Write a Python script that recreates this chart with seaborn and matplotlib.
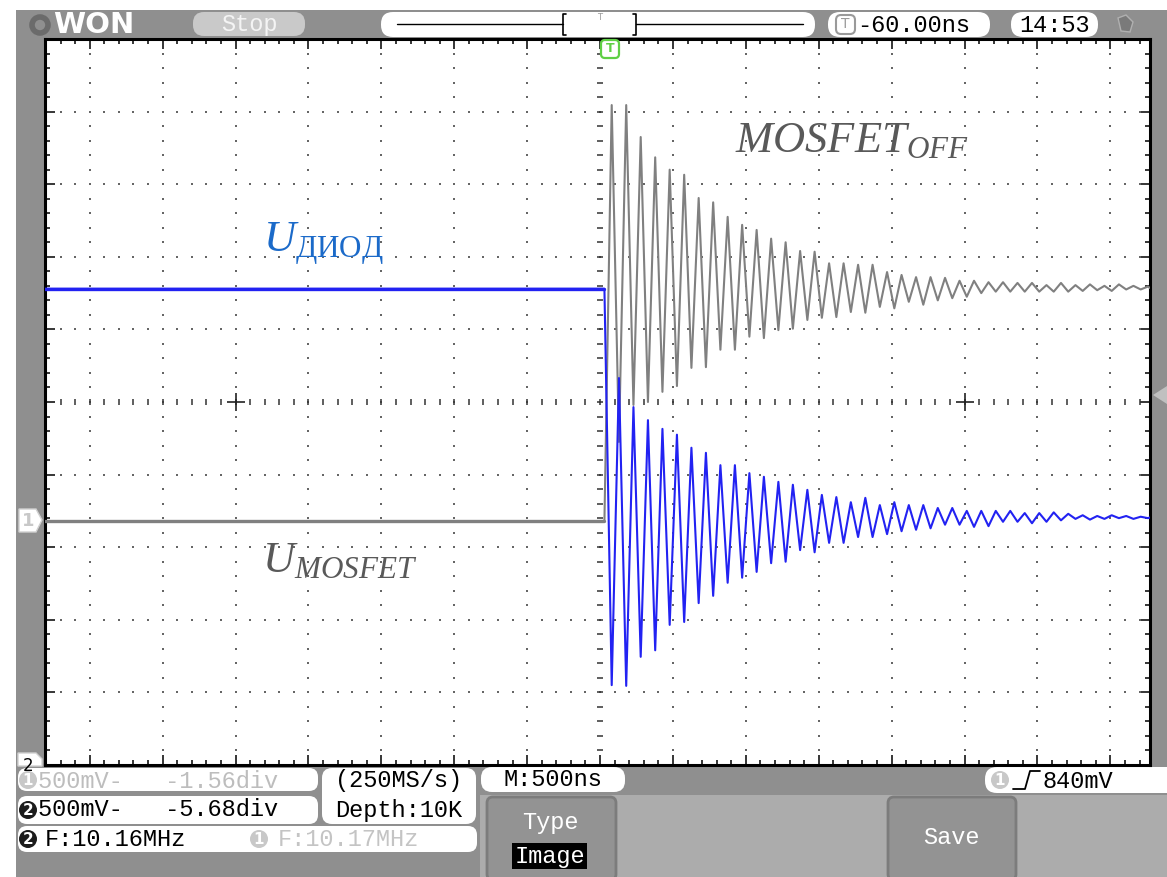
import numpy as np
import pandas as pd
import seaborn as sns
import matplotlib.pyplot as plt
from matplotlib.ticker import MultipleLocator
from matplotlib.patches import FancyBboxPatch, Rectangle, Polygon, Circle

# Oscilloscope capture: 500 ns/div, 500 mV/div, vertical values in divisions
T_LEFT, T_RIGHT = -3807, 3772      # visible time window, ns
STEP_T = 30                        # switching edge, ns
FIRST_EXT_T = 80                   # first extreme after the edge, ns
HALF_PERIOD = 49.7                 # ns between successive extremes (~10 MHz ringing)

# channel 2 (blue) - diode voltage
blue_pre = 1.56
blue_ext = [-3.90, 0.33, -3.91, -0.07, -3.51, -0.25, -3.42, -0.37, -3.07, -0.45,
            -3.03, -0.63, -2.77, -0.70, -2.67, -0.87, -2.49, -0.87, -2.42, -0.98,
            -2.34, -1.03, -2.22, -1.10, -2.20, -1.14, -2.04, -1.21, -2.07, -1.28,
            -1.94, -1.31, -1.94, -1.38, -1.86, -1.32, -1.86, -1.42, -1.82, -1.38,
            -1.78, -1.42, -1.76, -1.42, -1.74, -1.46, -1.69, -1.46, -1.69, -1.50,
            -1.72, -1.50, -1.71, -1.50, -1.65, -1.50, -1.65, -1.53, -1.67, -1.53,
            -1.65, -1.52, -1.63, -1.54, -1.61, -1.56, -1.62, -1.57, -1.61, -1.56,
            -1.60, -1.57, -1.61, -1.58, -1.60]
blue_rest = -1.59

# channel 1 (gray) - MOSFET voltage
gray_pre = -1.64
gray_ext = [4.09, -0.55, 4.09, -0.04, 3.65, 0.00, 3.37, 0.14, 3.20, 0.22,
            3.13, 0.47, 2.81, 0.48, 2.75, 0.72, 2.55, 0.72, 2.44, 0.90,
            2.37, 0.88, 2.25, 0.99, 2.20, 1.01, 2.08, 1.13, 2.07, 1.16,
            1.91, 1.17, 1.91, 1.24, 1.89, 1.23, 1.89, 1.31, 1.79, 1.29,
            1.75, 1.38, 1.72, 1.34, 1.72, 1.40, 1.71, 1.43, 1.67, 1.45,
            1.67, 1.50, 1.65, 1.52, 1.65, 1.52, 1.64, 1.52, 1.64, 1.52,
            1.61, 1.52, 1.64, 1.52, 1.61, 1.53, 1.62, 1.54, 1.60, 1.53,
            1.62, 1.55, 1.60, 1.55, 1.59]
gray_rest = 1.57


def trace(pre, ext, rest):
    t_ext = FIRST_EXT_T + HALF_PERIOD * np.arange(len(ext))
    t = np.concatenate([[T_LEFT, STEP_T], t_ext, [T_RIGHT]])
    v = np.concatenate([[pre, pre], ext, [rest]])
    return pd.DataFrame({'t_ns': t, 'div': v})


df_blue = trace(blue_pre, blue_ext, blue_rest)
df_gray = trace(gray_pre, gray_ext, gray_rest)

sns.set_theme(style='white')
plt.rcParams['font.family'] = ['Liberation Mono', 'DejaVu Sans']
plt.rcParams['mathtext.fontset'] = 'custom'
plt.rcParams['mathtext.it'] = 'Liberation Serif:italic'
plt.rcParams['mathtext.rm'] = 'Liberation Serif'

W, H = 1167, 877
fig = plt.figure(figsize=(W / 100, H / 100), dpi=100)
fig.patch.set_facecolor('white')

# background chrome, pixel coordinates
bg = fig.add_axes([0, 0, 1, 1], zorder=0)
bg.set_xlim(0, W)
bg.set_ylim(H, 0)
bg.axis('off')
top = fig.add_axes([0, 0, 1, 1], zorder=5)
top.set_xlim(0, W)
top.set_ylim(H, 0)
top.axis('off')
top.patch.set_alpha(0)


def rbox(a, x0, y0, x1, y1, fc, r=10, ec='none', lw=1):
    a.add_patch(FancyBboxPatch((x0, y0), x1 - x0, y1 - y0,
                               boxstyle=f'round,pad=0,rounding_size={r}',
                               fc=fc, ec=ec, lw=lw))


def ctext(a, x, y, s, color='black', size=17, ha='center', **kw):
    a.text(x, y, s, color=color, fontsize=size, ha=ha, va='center', **kw)


def chan_badge(a, x, y, num, fc):
    a.add_patch(Circle((x, y), 9, fc=fc, ec='none'))
    a.text(x, y + 0.5, num, color='white', fontsize=11, ha='center', va='center',
           family='DejaVu Sans', weight='bold')


bg.add_patch(Rectangle((16, 10), W - 16, H - 10, fc='#8f8f8f', ec='none'))
bg.add_patch(Rectangle((480, 795), W - 480, H - 795, fc='#acacac', ec='none'))

# header
bg.add_patch(Circle((40, 25), 8, fc='none', ec='#6b6b6b', lw=4))
bg.text(53, 25, 'WON', color='white', fontsize=21, weight='bold', va='center',
        family='DejaVu Sans')
rbox(bg, 193, 12, 305, 36, '#c9c9c9', r=11)
ctext(bg, 249, 24, 'Stop', color='#f4f4f4')
rbox(bg, 381, 12, 815, 37, 'white', r=12)
bg.plot([397, 563], [24, 24], color='black', lw=1)
bg.plot([636, 803], [24, 24], color='black', lw=1)
bg.plot([566, 563, 563, 566], [14, 14, 35, 35], color='black', lw=1.2)
bg.plot([633, 636, 636, 633], [14, 14, 35, 35], color='black', lw=1.2)
ctext(bg, 600, 17, 'T', color='#9a9a9a', size=6, family='DejaVu Sans')
rbox(bg, 828, 12, 990, 37, 'white', r=12)
rbox(bg, 836, 15, 855, 34, 'white', r=5, ec='#9a9a9a', lw=1.5)
ctext(bg, 845.5, 24, 'T', color='#9a9a9a', size=10, family='DejaVu Sans')
bg.text(857, 25, '-60.00ns', color='black', fontsize=17, va='center')
rbox(bg, 1011, 12, 1098, 37, 'white', r=12)
ctext(bg, 1055, 25, '14:53')
bg.add_patch(Polygon([(1118, 18), (1126, 15), (1133, 22), (1130, 32), (1121, 31)],
                     fc='#7a7a7a', ec='#b0b0b0', lw=1))

# bottom status panel
rbox(bg, 18, 768, 318, 791, 'white', r=9)
chan_badge(bg, 28, 780, '1', '#c8c8c8')
bg.text(38, 781, '500mV-   -1.56div', color='#bdbdbd', fontsize=17, va='center')
rbox(bg, 18, 796, 318, 824, 'white', r=9)
chan_badge(bg, 28, 810, '2', '#1c1c1c')
bg.text(38, 810, '500mV-   -5.68div', color='black', fontsize=17, va='center')
rbox(bg, 322, 768, 476, 824, 'white', r=10)
ctext(bg, 399, 781, '(250MS/s)')
ctext(bg, 399, 810, 'Depth:10K')
rbox(bg, 481, 767, 625, 792, 'white', r=11)
ctext(bg, 553, 779, 'M:500ns')
rbox(bg, 18, 826, 477, 852, 'white', r=9)
chan_badge(bg, 28, 839, '2', '#1c1c1c')
bg.text(45, 839, 'F:10.16MHz', color='black', fontsize=17, va='center')
chan_badge(bg, 259, 839, '1', '#c8c8c8')
bg.text(278, 839, 'F:10.17MHz', color='#c4c4c4', fontsize=17, va='center')
rbox(bg, 487, 797, 616, 880, '#939393', r=6, ec='#7c7c7c', lw=2)
ctext(bg, 550, 822, 'Type', color='white')
bg.add_patch(Rectangle((512, 843), 75, 26, fc='black', ec='none'))
ctext(bg, 549.5, 856, 'Image', color='white')
rbox(bg, 888, 797, 1016, 880, '#939393', r=6, ec='#7c7c7c', lw=2)
ctext(bg, 951, 838, 'Save', color='white')
rbox(bg, 985, 767, 1180, 793, 'white', r=12)
chan_badge(bg, 1000, 780, '1', '#c8c8c8')
bg.plot([1013, 1025, 1030, 1040], [789, 789, 771, 771], color='black', lw=1.3)
bg.text(1043, 781, '840mV', color='black', fontsize=17, va='center')

# plot area
ax = fig.add_axes([45 / W, 1 - 765 / H, 1105 / W, 726 / H], zorder=2)
ax.set_facecolor('white')
ax.set_xlim(T_LEFT, T_RIGHT)
ax.set_ylim(-5, 5)

xs_major = np.arange(-3500, 3501, 500)
xs_minor = np.arange(-3800, T_RIGHT, 100)
ys_major = np.arange(-4, 4.5, 1)
ys_minor = np.arange(-4.8, 4.9, 0.2)
for x in xs_major:
    if x != 0:
        ax.scatter(np.full(len(ys_minor), x), ys_minor, marker='s', s=1.6,
                   color='#666666', linewidths=0, zorder=1)
for y in ys_major:
    if y != 0:
        ax.scatter(xs_minor, np.full(len(xs_minor), y), marker='s', s=1.6,
                   color='#666666', linewidths=0, zorder=1)
ax.plot(xs_minor, np.zeros(len(xs_minor)), ls='none', marker='|', ms=4.5,
        mew=1.1, color='#333333', zorder=1)
ax.plot(np.zeros(len(ys_minor)), ys_minor, ls='none', marker='_', ms=4.5,
        mew=1.1, color='#333333', zorder=1)
ax.plot([-2500, 2500], [0, 0], ls='none', marker='+', ms=13, mew=1.2,
        color='#222222', zorder=1)

sns.lineplot(data=df_gray, x='t_ns', y='div', color='#808080', lw=1.5,
             estimator=None, sort=False, ax=ax, zorder=3)
sns.lineplot(data=df_gray.iloc[:2], x='t_ns', y='div', color='#808080', lw=2.4,
             estimator=None, sort=False, ax=ax, zorder=3)
sns.lineplot(data=df_blue, x='t_ns', y='div', color='#2222f2', lw=1.5,
             estimator=None, sort=False, ax=ax, zorder=4)
sns.lineplot(data=df_blue.iloc[:2], x='t_ns', y='div', color='#2222f2', lw=2.4,
             estimator=None, sort=False, ax=ax, zorder=4)

ax.xaxis.set_major_locator(MultipleLocator(500))
ax.xaxis.set_minor_locator(MultipleLocator(100))
ax.yaxis.set_major_locator(MultipleLocator(1))
ax.yaxis.set_minor_locator(MultipleLocator(0.2))
ax.tick_params(which='both', direction='in', top=True, right=True, bottom=True,
               left=True, labelbottom=False, labelleft=False, color='black', width=1.1)
ax.tick_params(which='major', length=7)
ax.tick_params(which='minor', length=3.5)
ax.set_xlabel('')
ax.set_ylabel('')
for sp in ax.spines.values():
    sp.set_color('black')
    sp.set_linewidth(2.2)

# markers drawn over the screen edge
top.add_patch(Polygon([(19, 509), (36, 509), (42, 520), (36, 532), (19, 532)],
                      fc='white', ec='#d0d0d0', lw=1))
ctext(top, 28, 521, '1', color='#c8c8c8', size=13, family='DejaVu Sans', weight='bold')
marker2 = Polygon([(18, 753), (36, 753), (42, 759), (42, 766), (18, 766)],
                  fc='white', ec='#d0d0d0', lw=1)
top.add_patch(marker2)
t2 = top.text(28, 766, '2', color='black', fontsize=12, ha='center', va='center',
              family='DejaVu Sans')
t2.set_clip_path(marker2)
top.add_patch(Polygon([(1153, 395), (1167, 386), (1167, 404)], fc='#c0c0c0', ec='none'))
rbox(top, 601, 40, 619, 58, 'white', r=4, ec='#5fcf45', lw=1.6)
ctext(top, 610, 49, 'T', color='#5fcf45', size=9, family='DejaVu Sans', weight='bold')

# signal labels
top.text(263, 252, r'$U_{\mathrm{ДИОД}}$', color='#1b6ac9', fontsize=32, va='baseline')
top.text(735, 152, r'$MOSFET_{OFF}$', color='#595959', fontsize=32, va='baseline')
top.text(262, 572, r'$U_{MOSFET}$', color='#595959', fontsize=32, va='baseline')

fig.savefig('out.png', dpi=100)
plt.close(fig)
